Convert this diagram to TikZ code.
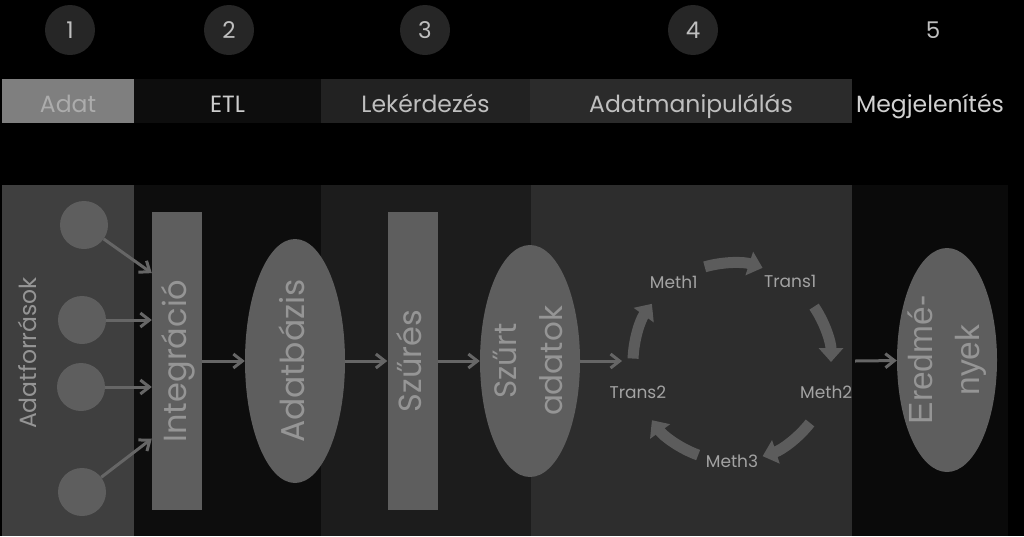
\documentclass[tikz,border=0pt]{standalone}
\usepackage{fontspec}
\usepackage{graphicx}
\setmainfont{Poppins}
\newfontfamily\arialf{Liberation Sans}
\usetikzlibrary{shapes.geometric,arrows.meta}
\definecolor{numfill}{HTML}{262626}
\definecolor{numtxt}{HTML}{BFBFBF}
\definecolor{colA}{HTML}{3F3F3F}
\definecolor{colB}{HTML}{0D0D0D}
\definecolor{colC}{HTML}{1C1C1C}
\definecolor{colD}{HTML}{2D2D2D}
\definecolor{colE}{HTML}{0A0A0A}
\definecolor{hdA}{HTML}{7F7F7F}
\definecolor{hdB}{HTML}{0D0D0D}
\definecolor{hdC}{HTML}{222222}
\definecolor{hdD}{HTML}{2B2B2B}
\definecolor{shapefill}{HTML}{5E5E5E}
\definecolor{shapetxt}{HTML}{959595}
\definecolor{arrcol}{HTML}{666666}
\definecolor{cyccol}{HTML}{5C5C5C}
\definecolor{cyctxt}{HTML}{A3A3A3}
\newcommand{\vtxt}[1]{\makebox[0pt]{\rotatebox{90}{\begin{tabular}{@{}c@{}}#1\end{tabular}}}}
\begin{document}
\begin{tikzpicture}[x=1pt,y=-1pt,
  numcirc/.style={circle, fill=numfill, minimum size=50pt, inner sep=0pt, text=numtxt, font=\fontsize{23}{27}\selectfont},
  hdr/.style={rectangle, minimum height=44pt, inner sep=0pt, text height=24pt, text depth=2pt, font=\fontsize{23.5}{28}\selectfont},
  src/.style={circle, fill=shapefill, minimum size=48pt, inner sep=0pt},
  bar/.style={rectangle, fill=shapefill, minimum width=50pt, minimum height=298pt, inner sep=0pt, text=shapetxt, font=\fontsize{32}{46}\selectfont},
  oval/.style={ellipse, fill=shapefill, minimum width=100pt, inner sep=0pt, text=shapetxt, font=\fontsize{31}{46}\selectfont},
  flow/.style={draw=arrcol, line width=3pt, -{Straight Barb[length=9pt,width=14pt]}},
  cyc/.style={draw=cyccol, line width=11pt, -{Triangle[length=14pt,width=24pt]}},
  cyclbl/.style={text=cyctxt, font=\fontsize{17}{20}\selectfont, inner sep=0pt}
]
\useasboundingbox (0,0) rectangle (1024,536);
\fill[black] (0,0) rectangle (1024,536);
% column backgrounds
\fill[colA] (2,185) rectangle (134,536);
\fill[colB] (134,185) rectangle (321,536);
\fill[colC] (321,185) rectangle (531,536);
\fill[colD] (531,185) rectangle (852,536);
\fill[colE] (852,185) rectangle (1008,536);
% number circles
\node[numcirc] (n1) at (70,30) {1};
\node[numcirc] (n2) at (229,30) {2};
\node[numcirc] (n3) at (425,30) {3};
\node[numcirc] (n4) at (693,30) {4};
\node[numcirc, fill=black] (n5) at (933,30) {5};
% header bars
\node[hdr, fill=hdA, minimum width=132pt, text=numtxt!70!hdA] (hA) at (68,101) {Adat};
\node[hdr, fill=hdB, minimum width=187pt, text=white!80!black] (hB) at (227.5,101) {ETL};
\node[hdr, fill=hdC, minimum width=209pt, text=white!75!black] (hC) at (425.5,101) {Lekérdezés};
\node[hdr, fill=hdD, minimum width=322pt, text=white!75!black] (hD) at (691,101) {Adatmanipulálás};
\node[hdr, text=white!82!black] (hE) at (930,101) {Megjelenítés};
% data sources
\node[text=shapetxt, font=\fontsize{23.5}{28}\selectfont, inner sep=0pt] (af) at (31,353) {\vtxt{Adatforrások}};
\node[src] (s1) at (84,225) {};
\node[src] (s2) at (82,320) {};
\node[src] (s3) at (81,387) {};
\node[src] (s4) at (82,492) {};
% main flow
\node[bar] (integ) at (177,361) {\vtxt{Integráció}};
\node[oval, minimum height=244pt, font=\fontsize{33}{46}\selectfont] (adb) at (295,361) {\vtxt{Adatbázis}};
\node[bar] (szures) at (412.5,361) {\vtxt{Szűrés}};
\node[oval, minimum height=232pt] (szurt) at (530,361) {\vtxt{Szűrt\\adatok}};
\node[oval, minimum height=224pt, font=\arialf\fontsize{33.5}{47}\selectfont] (ered) at (947,360) {\vtxt{Eredmé-\\nyek}};
\coordinate (cycin) at (622,361);
\coordinate (cycout) at (855,361);
\draw[flow] (s1) -- (integ.106);
\draw[flow] (s2) -- (s2 -| integ.west);
\draw[flow] (s3) -- (s3 -| integ.west);
\draw[flow] (s4) -- (integ.252);
\draw[flow] (integ) -- (adb);
\draw[flow] (adb) -- (szures);
\draw[flow] (szures) -- (szurt);
\draw[flow] (szurt) -- (cycin);
\draw[flow] (cycout) -- (ered);
% cycle
\begin{scope}[shift={(732,362)}, yscale=-1]
  \node[cyclbl] (m1) at (126:99) {Meth1};
  \node[cyclbl] (t1) at (54:99) {Trans1};
  \node[cyclbl] (m2) at (-18:99) {Meth2};
  \node[cyclbl] (m3) at (-90:99) {Meth3};
  \node[cyclbl] (t2) at (198:99) {Trans2};
  \draw[cyc] (106:99) arc[start angle=106, end angle=72, radius=99];
  \draw[cyc] (34:99) arc[start angle=34, end angle=0, radius=99];
  \draw[cyc] (-38:99) arc[start angle=-38, end angle=-72, radius=99];
  \draw[cyc] (-110:99) arc[start angle=-110, end angle=-144, radius=99];
  \draw[cyc] (178:99) arc[start angle=178, end angle=144, radius=99];
\end{scope}
\end{tikzpicture}
\end{document}
